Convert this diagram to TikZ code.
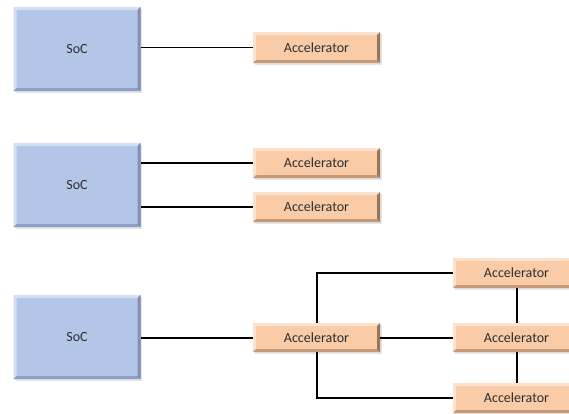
\documentclass[tikz,border=0pt]{standalone}
\usepackage{fontspec}
\setmainfont{Carlito}
\usetikzlibrary{shadows}
\definecolor{socfill}{HTML}{B4C6E7}
\definecolor{soclight}{HTML}{D3DEF2}
\definecolor{socright}{HTML}{7D90B4}
\definecolor{socbottom}{HTML}{8C9FC4}
\definecolor{accfill}{HTML}{F9CBA7}
\definecolor{acclight}{HTML}{FCE2CD}
\definecolor{accright}{HTML}{9C7456}
\definecolor{accbottom}{HTML}{C49A78}
\definecolor{txt}{HTML}{2E2E2E}
\tikzset{
  bevel/.style n args={4}{
    fill=#1,
    drop shadow={opacity=0.2, shadow xshift=1.5pt, shadow yshift=-1.5pt},
    path picture={
      \fill[#2] (path picture bounding box.north west) -- (path picture bounding box.north east)
        -- ([shift={(-3pt,-3pt)}]path picture bounding box.north east)
        -- ([shift={(3pt,-3pt)}]path picture bounding box.north west) -- cycle;
      \fill[#2] (path picture bounding box.north west) -- (path picture bounding box.south west)
        -- ([shift={(3pt,3pt)}]path picture bounding box.south west)
        -- ([shift={(3pt,-3pt)}]path picture bounding box.north west) -- cycle;
      \fill[#4] (path picture bounding box.south west) -- (path picture bounding box.south east)
        -- ([shift={(-3pt,3pt)}]path picture bounding box.south east)
        -- ([shift={(3pt,3pt)}]path picture bounding box.south west) -- cycle;
      \fill[#3] (path picture bounding box.north east) -- (path picture bounding box.south east)
        -- ([shift={(-3pt,3pt)}]path picture bounding box.south east)
        -- ([shift={(-3pt,-3pt)}]path picture bounding box.north east) -- cycle;
    }
  },
  socbox/.style={bevel={socfill}{soclight}{socright}{socbottom},
    minimum width=127pt, minimum height=84pt, inner sep=0pt,
    text=txt, font=\fontsize{14}{16}\selectfont},
  accbox/.style={bevel={accfill}{acclight}{accright}{accbottom},
    minimum width=127pt, minimum height=30pt, inner sep=0pt,
    text=txt, font=\fontsize{14}{16}\selectfont},
  link/.style={line width=2pt, black},
  thinlink/.style={line width=1.2pt, black}
}
\begin{document}
\begin{tikzpicture}[x=1pt,y=-1pt]
\useasboundingbox (0,0) rectangle (569,413);
\fill[white] (0,0) rectangle (569,413);
% Row 1
\node[socbox] (soc1) at (77,49) {SoC};
\node[accbox, minimum height=31pt] (acc1) at (316.5,47.5) {Accelerator};
\draw[thinlink] (soc1.east |- acc1.west) -- (acc1.west);
% Row 2
\node[socbox] (soc2) at (77,185) {SoC};
\node[accbox] (acc2a) at (316.5,163) {Accelerator};
\node[accbox] (acc2b) at (316.5,207) {Accelerator};
\draw[link] (soc2.east |- acc2a.west) -- (acc2a.west);
\draw[link] (soc2.east |- acc2b.west) -- (acc2b.west);
% Row 3
\node[socbox] (soc3) at (77,337) {SoC};
\node[accbox, minimum height=29pt] (acc3) at (316.5,337.5) {Accelerator};
\node[accbox] (ra) at (516.5,273) {Accelerator};
\node[accbox, minimum height=29pt] (rb) at (516.5,337.5) {Accelerator};
\node[accbox] (rc) at (516.5,398) {Accelerator};
\draw[link] (soc3.east |- acc3.west) -- (acc3.west);
\draw[link] (acc3.east) -- (rb.west);
\draw[link] (acc3.north) |- (ra.west);
\draw[link] (acc3.south) |- (rc.west);
\draw[link] (ra.south) -- (rb.north);
\draw[link] (rb.south) -- (rc.north);
\end{tikzpicture}
\end{document}
